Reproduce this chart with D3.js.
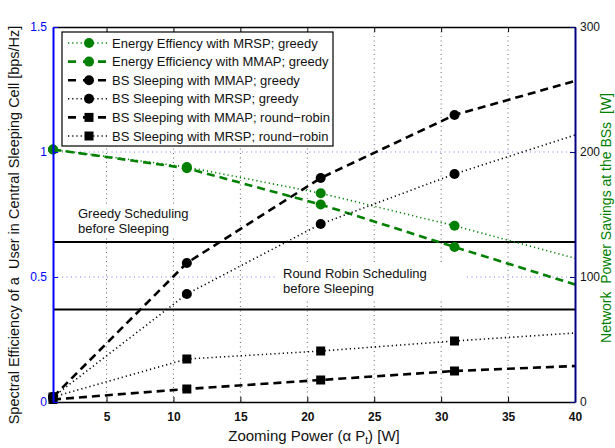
<!DOCTYPE html>
<meta charset="utf-8">
<script src="https://d3js.org/d3.v7.min.js"></script>
<style>
body { margin: 0; background: #fff; }
svg text { font-family: "Liberation Sans", Arial, sans-serif; white-space: pre; }
</style>
<body>
<script>

// zooming power samples (markers on all but the last one)
var xVals = [1, 11, 21, 31, 40];

// green series, right axis [W]
var eeMRSP = [202, 188, 167, 141, 115];
var eeMMAP = [202, 187, 158, 124, 94];

// black series, left axis [bps/Hz]
var sleepMMAPGreedy = [0.02, 0.556, 0.896, 1.148, 1.284];
var sleepMRSPGreedy = [0.02, 0.432, 0.712, 0.912, 1.068];
var sleepMMAPRR = [0.01, 0.052, 0.088, 0.124, 0.144];
var sleepMRSPRR = [0.02, 0.172, 0.204, 0.244, 0.276];

// reference levels
var greedyLevel = 0.64;
var rrLevel = 0.37;

var xTicks = [5, 10, 15, 20, 25, 30, 35, 40];
var yLeftTicks = [0, 0.5, 1, 1.5];
var yRightTicks = [0, 100, 200, 300];

var series = [
    {name: "Energy Effiency with MRSP; greedy", vals: eeMRSP, axis: "right", col: "#008000", dash: "dot", mark: "circle"},
    {name: "Energy Efficiency with MMAP; greedy", vals: eeMMAP, axis: "right", col: "#008000", dash: "dash", mark: "circle"},
    {name: "BS Sleeping with MMAP; greedy", vals: sleepMMAPGreedy, axis: "left", col: "#000", dash: "dash", mark: "circle"},
    {name: "BS Sleeping with MRSP; greedy", vals: sleepMRSPGreedy, axis: "left", col: "#000", dash: "dot", mark: "circle"},
    {name: "BS Sleeping with MMAP; round\u2212robin", vals: sleepMMAPRR, axis: "left", col: "#000", dash: "dash", mark: "square"},
    {name: "BS Sleeping with MRSP; round\u2212robin", vals: sleepMRSPRR, axis: "left", col: "#000", dash: "dot", mark: "square"}
];

var width = 615, height = 448;
var pLeft = 53, pRight = 575, pTop = 27, pBottom = 402;

var svg = d3.select("body").append("svg")
    .attr("width", width)
    .attr("height", height);

var x = d3.scaleLinear().domain([1, 40]).range([pLeft, pRight]);
var yL = d3.scaleLinear().domain([0, 1.5]).range([pBottom, pTop]);
var yR = d3.scaleLinear().domain([0, 300]).range([pBottom, pTop]);

function dashArr(d) { return d == "dash" ? "8,5" : "1.2,3"; }
function dashW(d) { return d == "dash" ? 2.6 : 1.6; }

// grid
var grid = svg.append("g");
grid.selectAll(".vg")
    .data(xTicks.filter(function(t) { return t < 40; }))
    .enter().append("line")
    .attr("x1", function(d) { return x(d); })
    .attr("x2", function(d) { return x(d); })
    .attr("y1", pTop).attr("y2", pBottom)
    .attr("stroke", "#666").attr("stroke-width", 1)
    .attr("stroke-dasharray", "1,3.5");
grid.selectAll(".hg")
    .data([0.5, 1])
    .enter().append("line")
    .attr("x1", pLeft).attr("x2", pRight)
    .attr("y1", function(d) { return yL(d); })
    .attr("y2", function(d) { return yL(d); })
    .attr("stroke", "#7a7aff").attr("stroke-width", 1)
    .attr("stroke-dasharray", "1,3.5");

// text boxes (white background over grid)
svg.append("rect").attr("x", 75).attr("y", 204).attr("width", 122).attr("height", 34).attr("fill", "#fff");
svg.append("rect").attr("x", 277).attr("y", 263).attr("width", 188).attr("height", 36).attr("fill", "#fff");

// reference lines
svg.selectAll(".ref")
    .data([greedyLevel, rrLevel])
    .enter().append("line")
    .attr("x1", pLeft).attr("x2", pRight)
    .attr("y1", function(d) { return yL(d); })
    .attr("y2", function(d) { return yL(d); })
    .attr("stroke", "#000").attr("stroke-width", 2);

function addText(lines, tx, ty) {
    var t = svg.append("text").attr("x", tx).attr("y", ty)
        .attr("font-size", 13).attr("fill", "#111");
    lines.forEach(function(l, i) {
        t.append("tspan").attr("x", tx).attr("dy", i == 0 ? 0 : 15).text(l);
    });
}
addText(["Greedy Scheduling", "before Sleeping"], 78, 218);
addText(["Round Robin Scheduling", "before Sleeping"], 283, 278);

// series lines
var line = function(s) {
    var yS = s.axis == "left" ? yL : yR;
    return d3.line()
        .x(function(d, i) { return x(xVals[i]); })
        .y(function(d) { return yS(d); })(s.vals);
};

svg.selectAll(".series")
    .data(series)
    .enter().append("path")
    .attr("d", line)
    .attr("fill", "none")
    .attr("stroke", function(s) { return s.col; })
    .attr("stroke-width", function(s) { return dashW(s.dash); })
    .attr("stroke-dasharray", function(s) { return dashArr(s.dash); });

// markers
series.forEach(function(s) {
    var yS = s.axis == "left" ? yL : yR;
    var pts = s.vals.slice(0, 4).map(function(v, i) { return [x(xVals[i]), yS(v)]; });
    if (s.mark == "circle") {
        svg.append("g").selectAll("circle").data(pts).enter().append("circle")
            .attr("cx", function(d) { return d[0]; })
            .attr("cy", function(d) { return d[1]; })
            .attr("r", 5).attr("fill", s.col);
    } else {
        svg.append("g").selectAll("rect").data(pts).enter().append("rect")
            .attr("x", function(d) { return d[0] - 4.5; })
            .attr("y", function(d) { return d[1] - 4.5; })
            .attr("width", 9).attr("height", 9).attr("fill", s.col);
    }
});

// axes
var xB = svg.append("g").attr("transform", "translate(0," + pBottom + ")")
    .call(d3.axisBottom(x).tickValues(xTicks).tickSizeInner(-5).tickSizeOuter(0).tickPadding(10));
var xT = svg.append("g").attr("transform", "translate(0," + pTop + ")")
    .call(d3.axisTop(x).tickValues(xTicks).tickSizeInner(-5).tickSizeOuter(0).tickFormat(""));
var yA = svg.append("g").attr("transform", "translate(" + pLeft + ",0)")
    .call(d3.axisLeft(yL).tickValues(yLeftTicks).tickSizeInner(-5).tickSizeOuter(0).tickPadding(6).tickFormat(d3.format("")));
var yB = svg.append("g").attr("transform", "translate(" + pRight + ",0)")
    .call(d3.axisRight(yR).tickValues(yRightTicks).tickSizeInner(-5).tickSizeOuter(0).tickPadding(5));

[xB, xT, yA, yB].forEach(function(a) {
    a.selectAll("text").attr("font-size", 12).attr("font-family", "Liberation Sans, Arial, sans-serif");
});
xB.select(".domain").attr("stroke", "#000").attr("stroke-width", 1.5);
xT.select(".domain").attr("stroke", "#000").attr("stroke-width", 1.5);
xB.selectAll(".tick text").attr("font-weight", "bold").attr("fill", "#111");
yA.select(".domain").attr("stroke", "#0000ff").attr("stroke-width", 2);
yA.selectAll(".tick line").attr("stroke", "#0000ff");
yA.selectAll(".tick text").attr("fill", "#0000ff");
yB.select(".domain").attr("stroke", "#000080").attr("stroke-width", 2);
yB.selectAll(".tick line").attr("stroke", "#000080");
yB.selectAll(".tick text").attr("fill", "#111");

// legend
var lg = svg.append("g").attr("transform", "translate(62,32)");
lg.append("rect").attr("width", 271).attr("height", 114)
    .attr("fill", "#fff").attr("stroke", "#000").attr("stroke-width", 1.2);
var rows = lg.selectAll(".row").data(series).enter().append("g")
    .attr("transform", function(d, i) { return "translate(0," + (11 + i * 18.6) + ")"; });
rows.append("line")
    .attr("x1", 6).attr("x2", 47).attr("y1", 0).attr("y2", 0)
    .attr("stroke", function(d) { return d.col; })
    .attr("stroke-width", function(d) { return dashW(d.dash); })
    .attr("stroke-dasharray", function(d) { return d.dash == "dash" ? "8,7" : "1.2,3"; });
rows.each(function(d) {
    var g = d3.select(this);
    if (d.mark == "circle") g.append("circle").attr("cx", 27).attr("cy", 0).attr("r", 5).attr("fill", d.col);
    else g.append("rect").attr("x", 22.5).attr("y", -4.5).attr("width", 9).attr("height", 9).attr("fill", d.col);
});
rows.append("text").attr("x", 50).attr("y", 4.5)
    .attr("font-size", 13).attr("fill", "#111")
    .text(function(d) { return d.name; });

// axis labels
var xl = svg.append("text").attr("x", 314).attr("y", 441)
    .attr("text-anchor", "middle").attr("font-size", 15).attr("fill", "#111");
xl.append("tspan").text("Zooming Power (\u03b1 P");
xl.append("tspan").attr("font-size", 10).attr("dy", 3).text("t");
xl.append("tspan").attr("dy", -3).text(") [W]");

svg.append("text")
    .attr("transform", "translate(19,225) rotate(-90)")
    .attr("text-anchor", "middle").attr("font-size", 14.5).attr("fill", "#111")
    .text("Spectral Efficiency of a  User in Central Sleeping Cell [bps/Hz]");

svg.append("text")
    .attr("transform", "translate(611,218) rotate(-90)")
    .attr("text-anchor", "middle").attr("font-size", 14).attr("fill", "#008000")
    .text("Network  Power Savings at the BSs  [W]");

</script>
</body>
